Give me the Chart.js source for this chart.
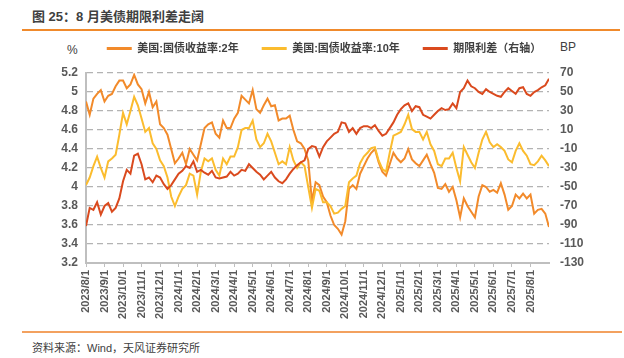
<!DOCTYPE html>
<html><head><meta charset="utf-8">
<script src="https://cdn.jsdelivr.net/npm/chart.js@4.4.1/dist/chart.umd.min.js"></script>
<style>
html,body{margin:0;padding:0;background:#fff;width:624px;height:358px;overflow:hidden;font-family:'Liberation Sans',Arial,'Noto Sans CJK SC',sans-serif;}
#title{position:absolute;left:32px;top:9px;line-height:16px;font-size:13px;font-weight:bold;color:#404040;white-space:nowrap;}
#topline{position:absolute;left:22px;right:4px;top:29px;height:2px;background:#F08A2C;}
#botline{position:absolute;left:22px;right:2px;top:331px;height:2px;background:#F3A15F;}
#source{position:absolute;left:32px;top:341px;line-height:14px;font-size:11px;color:#404040;white-space:nowrap;}
#unitL{position:absolute;left:67px;top:43px;line-height:14px;font-size:12px;color:#404040;}
#unitR{position:absolute;left:560px;top:40px;line-height:14px;font-size:12px;color:#404040;}
#chart{position:absolute;left:0;top:20px;}
</style></head>
<body>
<div id="title">图 25：8 月美债期限利差走阔</div>
<div id="topline"></div>
<div id="unitL">%</div>
<div id="unitR">BP</div>
<canvas id="chart" width="624" height="303"></canvas>
<div id="botline"></div>
<div id="source">资料来源：Wind，天风证券研究所</div>
<script>
// Month-start tick labels
const xLabels = ['2023/8/1','2023/9/1','2023/10/1','2023/11/1','2023/12/1','2024/1/1','2024/2/1','2024/3/1','2024/4/1','2024/5/1','2024/6/1','2024/7/1','2024/8/1','2024/9/1','2024/10/1','2024/11/1','2024/12/1','2025/1/1','2025/2/1','2025/3/1','2025/4/1','2025/5/1','2025/6/1','2025/7/1','2025/8/1'];

// Samples: 5 per month (days ~1, 7, 13, 19, 25)
const SAMPLES_PER_MONTH = 5;

// 美国:国债收益率:2年 (%)
const yield2Y = [
  4.90,4.76,4.93,4.98,5.02, 4.90,4.96,4.98,5.06,5.12, 5.12,5.04,5.08,5.18,5.08, 5.03,4.88,5.00,4.84,4.90,
  4.66,4.62,4.55,4.40,4.25, 4.30,4.36,4.24,4.40,4.34, 4.28,4.45,4.62,4.66,4.68, 4.56,4.52,4.70,4.62,4.62,
  4.72,4.78,4.96,4.92,4.88, 5.02,4.82,4.78,4.86,4.93, 4.85,4.86,4.70,4.72,4.72, 4.75,4.60,4.48,4.46,4.40,
  4.28,3.85,4.05,4.02,3.90, 3.84,3.70,3.60,3.56,3.50, 3.64,3.98,4.02,3.98,4.14, 4.22,4.30,4.36,4.40,4.26,
  4.16,4.12,4.24,4.36,4.30, 4.26,4.30,4.40,4.29,4.25, 4.22,4.28,4.34,4.24,4.15, 3.99,3.98,4.03,3.95,4.00,
  3.86,3.68,3.88,3.80,3.74, 3.68,3.90,4.02,4.00,3.95, 3.97,3.94,4.04,3.92,3.76, 3.80,3.92,3.88,3.93,3.88,
  3.92,3.72,3.76,3.77,3.72, 3.58
];

// 美国:国债收益率:10年 (%)
const yield10Y = [
  4.02,4.10,4.22,4.32,4.20, 4.10,4.27,4.30,4.34,4.55, 4.78,4.66,4.80,4.95,4.86, 4.72,4.58,4.62,4.46,4.40,
  4.28,4.22,4.10,3.90,3.80, 3.90,3.98,4.02,4.14,4.12, 3.92,4.16,4.30,4.27,4.30, 4.18,4.12,4.30,4.24,4.32,
  4.32,4.42,4.60,4.62,4.62, 4.70,4.50,4.42,4.46,4.56, 4.48,4.36,4.24,4.27,4.24, 4.42,4.28,4.20,4.26,4.22,
  4.00,3.78,3.98,3.96,3.84, 3.84,3.80,3.72,3.73,3.77, 3.80,4.05,4.09,4.12,4.25, 4.32,4.36,4.41,4.42,4.28,
  4.19,4.16,4.36,4.54,4.56, 4.58,4.66,4.76,4.61,4.58, 4.58,4.50,4.58,4.45,4.38, 4.24,4.22,4.30,4.30,4.36,
  4.20,4.06,4.42,4.34,4.26, 4.20,4.36,4.50,4.58,4.47, 4.42,4.45,4.42,4.38,4.29, 4.26,4.38,4.46,4.38,4.33,
  4.24,4.23,4.27,4.33,4.28, 4.22
];

// 期限利差（右轴） (BP)
const termSpread = [
  -91,-72,-74,-66,-79, -70,-67,-76,-72,-62, -44,-32,-36,-17,-15, -26,-42,-40,-45,-38,
  -40,-47,-52,-48,-42, -36,-33,-28,-30,-23, -34,-32,-35,-37,-33, -40,-41,-40,-39,-34,
  -38,-36,-32,-33,-26, -30,-34,-37,-42,-38, -34,-40,-44,-46,-42, -36,-31,-27,-24,-22,
  -10,-7,-8,-18,-8, -2,2,6,8,18, 17,8,12,6,12, 14,14,12,15,9,
  4,6,12,18,26, 32,36,38,30,35, 34,26,24,22,26, 30,33,31,32,38,
  33,50,54,62,56, 54,50,48,53,50, 48,46,45,50,54, 51,48,54,55,48,
  46,50,52,55,57, 64
];

const toPoints = arr => arr.map((v, i) => ({x: i / SAMPLES_PER_MONTH, y: v}));

Chart.defaults.font.family = "'Liberation Sans', Arial, 'Noto Sans CJK SC', sans-serif";
Chart.defaults.color = '#595959';

const legendSpacer = {
  id: 'legendSpacer',
  beforeInit(chart) {
    const fit = chart.legend.fit;
    chart.legend.fit = function () { fit.call(this); this.height += 9; };
  }
};

new Chart(document.getElementById('chart'), {
  type: 'line',
  data: {
    datasets: [
      {label: '美国:国债收益率:2年', data: toPoints(yield2Y), borderColor: '#F28A2A', backgroundColor: '#F28A2A', borderWidth: 2, pointRadius: 0, yAxisID: 'y', order: 3},
      {label: '美国:国债收益率:10年', data: toPoints(yield10Y), borderColor: '#FBBC2E', backgroundColor: '#FBBC2E', borderWidth: 2, pointRadius: 0, yAxisID: 'y', order: 2},
      {label: '期限利差（右轴）', data: toPoints(termSpread), borderColor: '#DA4A1E', backgroundColor: '#DA4A1E', borderWidth: 2, pointRadius: 0, yAxisID: 'y1', order: 1}
    ]
  },
  options: {
    responsive: false,
    animation: false,
    devicePixelRatio: 1,
    layout: {padding: {left: 24, right: 0, top: 0, bottom: 0}},
    plugins: {
      tooltip: {enabled: false},
      legend: {
        position: 'top',
        align: 'center',
        labels: {
          boxWidth: 25, boxHeight: 3, padding: 23,
          color: '#404040',
          font: {size: 11, weight: 'bold'},
          sort: (a, b) => a.datasetIndex - b.datasetIndex,
          generateLabels: chart => Chart.defaults.plugins.legend.labels.generateLabels(chart)
            .map(l => Object.assign(l, {lineWidth: 0, fillStyle: l.strokeStyle}))
        }
      }
    },
    scales: {
      x: {
        type: 'linear', min: 0, max: 25,
        afterBuildTicks: s => { s.ticks = xLabels.map((_, k) => ({value: k})); },
        afterFit: s => { s.height = 60; },
        ticks: {autoSkip: false, minRotation: 90, maxRotation: 90, padding: 3, font: {size: 11, weight: 'bold'},
                callback: v => xLabels[v]},
        grid: {drawOnChartArea: false, drawTicks: true, tickLength: 4, color: '#bfbfbf'},
        border: {display: true, color: '#bfbfbf', width: 2}
      },
      y: {
        position: 'left', min: 3.2, max: 5.2,
        afterFit: s => { s.width = 62; },
        ticks: {stepSize: 0.2, padding: 8, font: {size: 12, weight: 'bold'},
                callback: v => String(Math.round(v * 10) / 10)},
        grid: {color: '#b3b3b3', lineWidth: 1.2, drawTicks: false},
        border: {display: true, color: '#bfbfbf', width: 2, dash: [6, 4]}
      },
      y1: {
        position: 'right', min: -130, max: 70,
        afterFit: s => { s.width = 75; },
        ticks: {stepSize: 20, padding: 11, font: {size: 12, weight: 'bold'}},
        grid: {drawOnChartArea: false, drawTicks: false},
        border: {display: false}
      }
    }
  },
  plugins: [legendSpacer]
});
</script>
</body></html>
